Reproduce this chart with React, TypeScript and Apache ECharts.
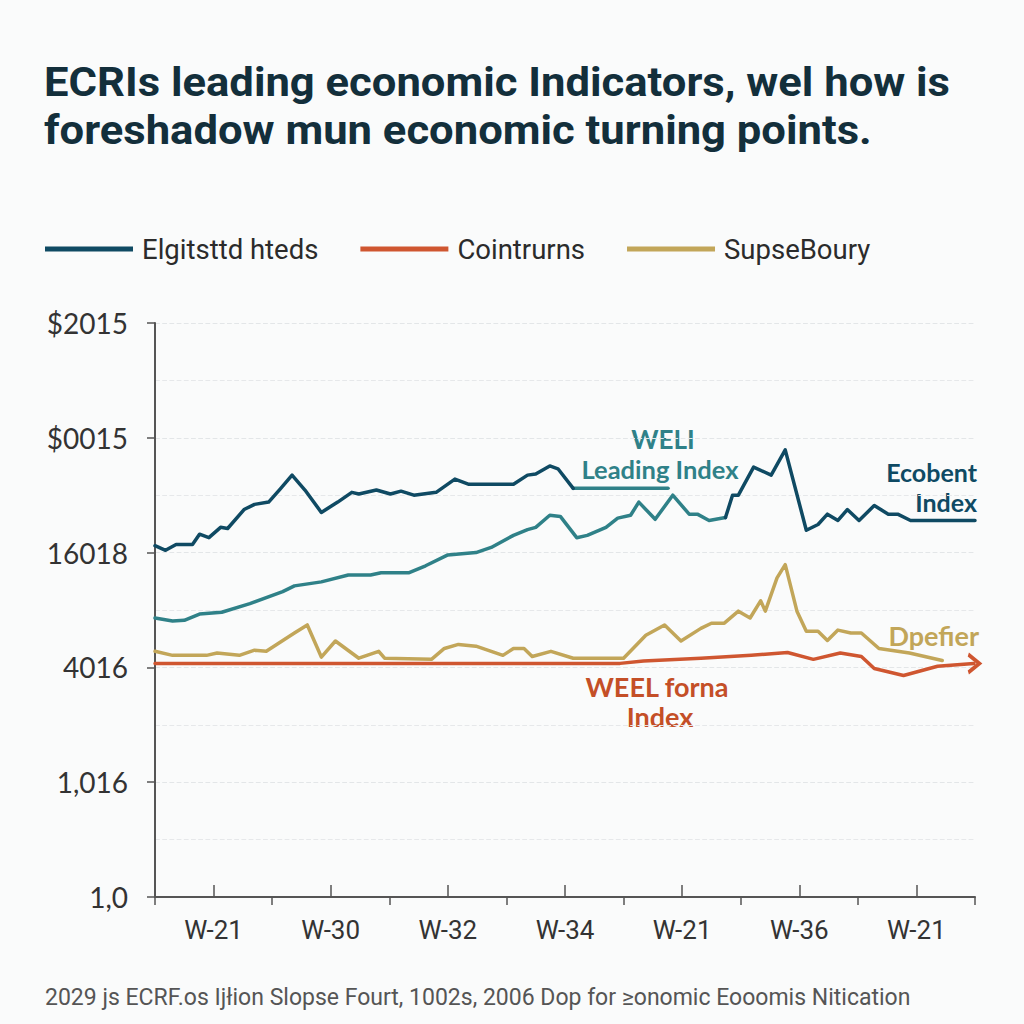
import React, { useEffect, useRef } from "react";
import * as echarts from "echarts";

const titleLines = [
  "ECRIs leading economic Indicators, wel how is",
  "foreshadow mun economic turning points.",
];
const legendNames = ["Elgitsttd hteds", "Cointrurns", "SupseBoury"];
const weekLabels = ["W-21", "W-30", "W-32", "W-34", "W-21", "W-36", "W-21"];
const yTickLabels = ["1,0", "1,016", "4016", "16018", "$0015", "$2015"];
const footerText =
  "2029 js ECRF.os Ijłion Slopse Fourt, 1002s, 2006 Dop for ≥onomic Eooomis Nitication";

// [week position, index value]
const navyEarly: [number, number][] = [
  [0.0, 6.12], [0.09, 6.04], [0.18, 6.14], [0.32, 6.14], [0.38, 6.32], [0.46, 6.26],
  [0.56, 6.44], [0.62, 6.42], [0.76, 6.75], [0.85, 6.84], [0.97, 6.88], [1.07, 7.11],
  [1.17, 7.35], [1.28, 7.09], [1.42, 6.7], [1.56, 6.88], [1.68, 7.05], [1.74, 7.02],
  [1.89, 7.09], [2.01, 7.02], [2.1, 7.07], [2.21, 7.0], [2.4, 7.05], [2.56, 7.28],
  [2.68, 7.19], [2.78, 7.19], [3.06, 7.19], [3.18, 7.35], [3.25, 7.37], [3.37, 7.51],
  [3.44, 7.46], [3.57, 7.12],
];
const leadingUnderline: [number, number][] = [
  [3.57, 7.12], [4.38, 7.12],
];
const navyLate: [number, number][] = [
  [4.87, 6.61], [4.93, 7.0], [4.98, 7.0], [5.11, 7.49], [5.26, 7.35], [5.38, 7.79],
  [5.56, 6.39], [5.66, 6.49], [5.74, 6.67], [5.83, 6.56], [5.91, 6.75], [6.01, 6.56],
  [6.14, 6.82], [6.26, 6.67], [6.34, 6.67], [6.45, 6.56], [7.0, 6.56],
];
const tealLeading: [number, number][] = [
  [0.0, 4.86], [0.15, 4.81], [0.25, 4.82], [0.38, 4.93], [0.57, 4.96], [0.81, 5.11],
  [1.09, 5.32], [1.19, 5.42], [1.42, 5.49], [1.65, 5.61], [1.84, 5.61], [1.93, 5.65],
  [2.17, 5.65], [2.31, 5.77], [2.5, 5.96], [2.74, 6.0], [2.87, 6.09], [3.06, 6.3],
  [3.18, 6.4], [3.25, 6.44], [3.37, 6.65], [3.46, 6.63], [3.6, 6.26], [3.69, 6.3],
  [3.85, 6.44], [3.95, 6.6], [4.06, 6.65], [4.13, 6.88], [4.27, 6.58], [4.42, 7.0],
  [4.56, 6.67], [4.63, 6.67], [4.73, 6.56], [4.87, 6.61],
];
const goldSeries: [number, number][] = [
  [0.0, 4.28], [0.15, 4.21], [0.44, 4.21], [0.53, 4.25], [0.72, 4.21], [0.85, 4.3],
  [0.95, 4.28], [1.19, 4.6], [1.3, 4.74], [1.42, 4.18], [1.54, 4.46], [1.74, 4.16],
  [1.91, 4.28], [1.96, 4.16], [2.36, 4.14], [2.47, 4.33], [2.59, 4.4], [2.74, 4.37],
  [2.97, 4.21], [3.06, 4.33], [3.15, 4.33], [3.22, 4.19], [3.38, 4.28], [3.57, 4.16],
  [4.0, 4.16], [4.19, 4.56], [4.35, 4.74], [4.49, 4.46], [4.66, 4.68], [4.75, 4.77],
  [4.86, 4.77], [4.98, 4.98], [5.08, 4.86], [5.17, 5.16], [5.21, 4.98], [5.31, 5.56],
  [5.38, 5.79], [5.48, 4.98], [5.56, 4.63], [5.66, 4.63], [5.74, 4.47], [5.83, 4.65],
  [5.94, 4.6], [6.03, 4.6], [6.18, 4.33], [6.44, 4.25], [6.72, 4.12],
];
const orangeSeries: [number, number][] = [
  [0.0, 4.07], [3.97, 4.07], [4.17, 4.11], [4.66, 4.16], [5.09, 4.21], [5.4, 4.26],
  [5.62, 4.14], [5.85, 4.25], [6.03, 4.19], [6.14, 3.98], [6.39, 3.86], [6.68, 4.02],
  [6.99, 4.07],
];

const NAVY = "#0f4a63";
const TEAL = "#2f8188";
const GOLD = "#c2a659";
const ORANGE = "#cf5630";
const ORANGE_TEXT = "#c44f27";

export default function App() {
  const ref = useRef<HTMLDivElement>(null);
  useEffect(() => {
    document.body.style.margin = "0";
    if (!ref.current) return;
    const chart = echarts.init(ref.current, undefined, { renderer: "svg" });

    const orangeData: any[] = orangeSeries.map((p, i) =>
      i === orangeSeries.length - 1
        ? {
            value: p,
            symbol: "path://M0,0L9,9L0,18",
            symbolSize: [11, 18],
            symbolKeepAspect: false,
            itemStyle: { color: "none", borderColor: ORANGE, borderWidth: 3.5 },
          }
        : { value: p }
    );

    const lineBase = {
      type: "line",
      xAxisIndex: 0,
      yAxisIndex: 0,
      symbol: "none",
      smooth: false,
      lineStyle: { width: 3.5, cap: "round", join: "round" },
      emphasis: { disabled: true },
      silent: true,
    };

    const annot = (
      text: string,
      x: number,
      y: number,
      color: string,
      align: string,
      size = 26,
      family = "Lato",
      scaleX = 1
    ) => ({
      type: "text",
      x,
      y,
      scaleX,
      silent: true,
      style: {
        text,
        fill: color,
        font: `700 ${size}px ${family}, sans-serif`,
        textAlign: align,
        textVerticalAlign: "middle",
      },
    });

    chart.setOption({
      animation: false,
      backgroundColor: "#fafbfb",
      legend: {
        data: legendNames,
        left: 40,
        top: 230,
        icon: "rect",
        itemWidth: 88,
        itemHeight: 5,
        itemGap: 42,
        selectedMode: false,
        textStyle: { fontFamily: "Roboto", fontSize: 27.5, color: "#2b2b2b", padding: [0, 0, 0, 4] },
      },
      grid: { left: 155, right: 49, top: 323, bottom: 127 },
      xAxis: [
        {
          type: "value",
          min: 0,
          max: 7,
          interval: 1,
          axisLine: { show: true, onZero: false, lineStyle: { color: "#555", width: 2 } },
          axisTick: { show: true, length: 8, lineStyle: { color: "#555", width: 1.5 } },
          axisLabel: { show: false },
          splitLine: { show: false },
        },
        {
          type: "category",
          data: weekLabels,
          boundaryGap: true,
          position: "bottom",
          axisLine: { show: false },
          axisTick: { show: true, alignWithLabel: true, inside: true, length: 12, lineStyle: { color: "#555", width: 1.5 } },
          axisLabel: { fontFamily: "Roboto", fontSize: 26, color: "#333", margin: 20 },
          splitLine: { show: false },
        },
      ],
      yAxis: {
        type: "value",
        min: 0,
        max: 10,
        interval: 2,
        axisLine: { show: true, lineStyle: { color: "#555", width: 2 } },
        axisTick: { show: true, length: 8, lineStyle: { color: "#555", width: 1.5 } },
        axisLabel: {
          fontFamily: "Lato",
          fontSize: 28,
          color: "#333",
          margin: 27,
          formatter: (v: number) => yTickLabels[Math.round(v / 2)] ?? "",
        },
        splitLine: { show: true, lineStyle: { color: "#e3e6e8", type: "dashed", width: 1.2 } },
        minorTick: { show: false, splitNumber: 2 },
        minorSplitLine: { show: true, lineStyle: { color: "#e6e8ea", type: "dashed", width: 1.2 } },
      },
      series: [
        { ...lineBase, name: legendNames[0], data: navyEarly, lineStyle: { ...lineBase.lineStyle, color: NAVY }, itemStyle: { color: NAVY }, z: 4 },
        { ...lineBase, name: "WELI Leading Index", data: tealLeading, lineStyle: { ...lineBase.lineStyle, color: TEAL }, itemStyle: { color: TEAL }, z: 3 },
        { ...lineBase, name: "WELI Leading Index", data: leadingUnderline, lineStyle: { ...lineBase.lineStyle, color: TEAL }, itemStyle: { color: TEAL }, z: 3 },
        { ...lineBase, name: legendNames[0], data: navyLate, lineStyle: { ...lineBase.lineStyle, color: NAVY }, itemStyle: { color: NAVY }, z: 4 },
        { ...lineBase, name: legendNames[2], data: goldSeries, lineStyle: { ...lineBase.lineStyle, color: GOLD }, itemStyle: { color: GOLD }, z: 2 },
        { ...lineBase, name: legendNames[1], data: orangeData, showSymbol: true, lineStyle: { ...lineBase.lineStyle, color: ORANGE }, itemStyle: { color: ORANGE }, z: 5 },
      ],
      graphic: [
        annot(titleLines[0], 44, 82, "#132f3b", "left", 40, "Roboto", 1.09),
        annot(titleLines[1], 44, 130, "#132f3b", "left", 40, "Roboto", 1.09),
        annot("WELI", 663, 439, TEAL, "center", 26),
        annot("Leading Index", 660, 469, TEAL, "center", 25.5),
        annot("Ecobent", 977, 472, NAVY, "right", 25),
        annot("Index", 977, 502, NAVY, "right", 25),
        annot("Dpefier", 979, 635, GOLD, "right", 27),
        annot("WEEL forna", 657, 686, ORANGE_TEXT, "center", 27),
        annot("Index", 660, 716, ORANGE_TEXT, "center", 27),
        {
          type: "text",
          x: 45,
          y: 997,
          silent: true,
          style: {
            text: footerText,
            fill: "#555",
            font: "23px Roboto, sans-serif",
            textVerticalAlign: "middle",
          },
        },
      ],
    });
    return () => chart.dispose();
  }, []);
  return <div ref={ref} style={{ width: 1024, height: 1024 }} />;
}
